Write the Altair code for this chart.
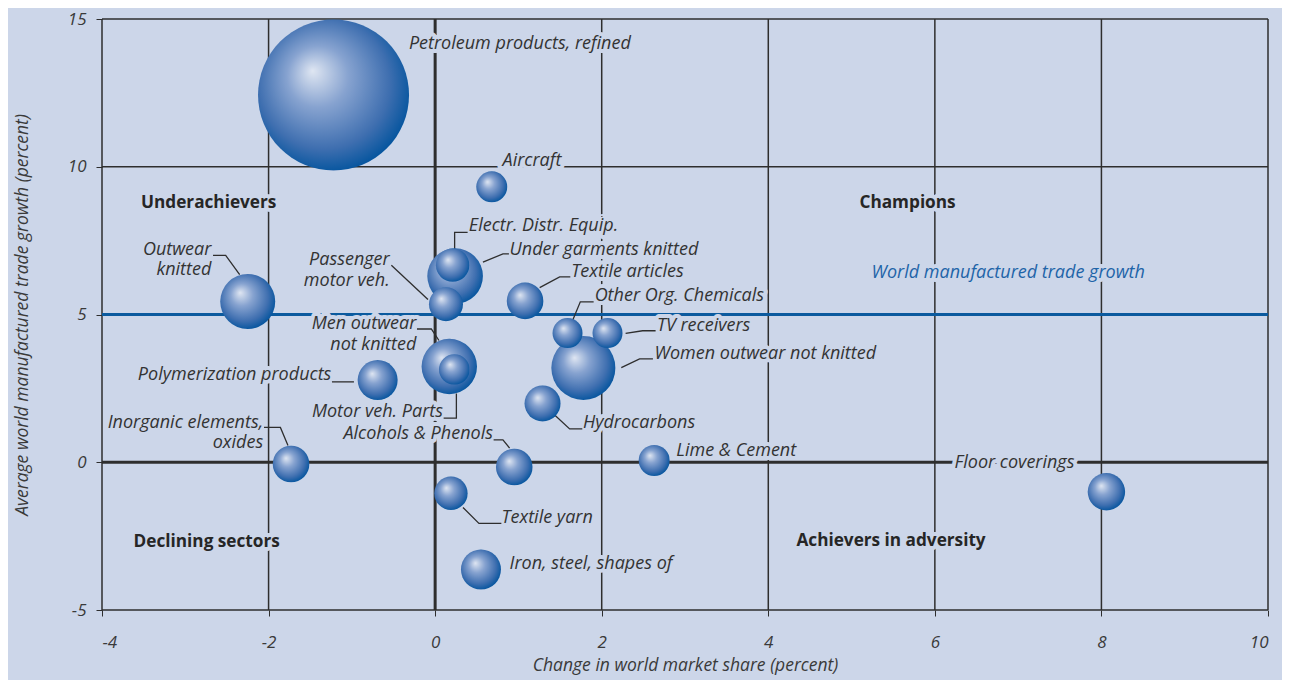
import altair as alt
import pandas as pd

# ---------------- data ----------------
names = ["Petroleum products, refined", "Aircraft", "Outwear knitted", "Electr. Distr. Equip.",
         "Under garments knitted", "Passenger motor veh.", "Textile articles", "Other Org. Chemicals",
         "TV receivers", "Women outwear not knitted", "Men outwear not knitted", "Motor veh. Parts",
         "Polymerization products", "Hydrocarbons", "Alcohols & Phenols", "Lime & Cement",
         "Inorganic elements, oxides", "Textile yarn", "Iron, steel, shapes of", "Floor coverings"]
share_change = [-1.22, 0.68, -2.25, 0.21, 0.24, 0.13, 1.08, 1.59, 2.07, 1.78, 0.17, 0.23,
                -0.69, 1.29, 0.95, 2.63, -1.73, 0.19, 0.55, 8.06]
trade_growth = [12.43, 9.32, 5.44, 6.67, 6.30, 5.35, 5.46, 4.37, 4.37, 3.19, 3.24, 3.14,
                2.78, 1.99, -0.16, 0.06, -0.06, -1.05, -3.63, -1.00]
bubble_value = [57.0, 2.4, 7.56, 2.79, 7.73, 2.89, 3.35, 2.25, 2.25, 10.24, 7.67, 2.34,
                4.0, 3.24, 3.35, 2.4, 3.35, 2.79, 4.0, 3.5]

world_growth = 5

x_ticks = [-4, -2, 0, 2, 4, 6, 8, 10]
y_ticks = [-5, 0, 5, 10, 15]

# annotation labels: text, x, y, align
label_text = ["Petroleum products, refined", "Aircraft", "Electr. Distr. Equip.", "Under garments knitted",
              "Passenger", "motor veh.", "Outwear", "knitted", "Textile articles", "Other Org. Chemicals",
              "TV receivers", "Women outwear not knitted", "Men outwear", "not knitted",
              "Polymerization products", "Motor veh. Parts", "Alcohols & Phenols", "Hydrocarbons",
              "Lime & Cement", "Inorganic elements,", "oxides", "Textile yarn", "Iron, steel, shapes of",
              "Floor coverings"]
label_x = [-0.315, 0.81, 0.405, 0.894, -0.546, -0.546, -2.687, -2.687, 1.635, 1.915, 2.663, 2.635,
           -0.226, -0.226, -1.246, 0.094, 0.694, 1.774, 2.896, -2.065, -2.065, 0.798, 0.894, 6.237]
label_y = [14.16, 10.19, 7.98, 7.19, 6.84, 6.15, 7.19, 6.50, 6.43, 5.63, 4.62, 3.67, 4.67, 3.97,
           2.94, 1.69, 0.95, 1.32, 0.37, 1.32, 0.65, -1.89, -3.43, -0.04]
label_align = ["left", "left", "left", "left", "right", "right", "right", "right", "left", "left",
               "left", "left", "right", "right", "right", "right", "right", "left", "left", "right",
               "right", "left", "left", "left"]

quad_text = ["Underachievers", "Champions", "Declining sectors", "Achievers in adversity"]
quad_x = [-2.719, 5.672, -2.743, 5.474]
quad_y = [8.78, 8.78, -2.71, -2.65]

ref_text = ["World manufactured trade growth"]
ref_x = [6.881]
ref_y = [6.41]

# leader lines: group id and points
leader_group = (["a"] * 3 + ["b"] * 3 + ["c"] * 3 + ["d"] * 2 + ["e"] * 3 + ["f"] * 3 + ["g"] * 3 +
                ["h"] * 3 + ["i"] * 3 + ["j"] * 2 + ["k"] * 3 + ["l"] * 3 + ["m"] * 3 + ["n"] * 3 +
                ["o"] * 3)
leader_x = [-2.667, -2.515, -2.347,
            0.234, 0.234, 0.39,
            0.574, 0.814, 0.886,
            -0.526, -0.086,
            1.255, 1.495, 1.623,
            1.654, 1.743, 1.903,
            2.287, 2.491, 2.647,
            2.235, 2.455, 2.615,
            -0.218, -0.046, 0.046,
            -1.239, -0.975,
            0.102, 0.255, 0.255,
            0.702, 0.814, 0.894,
            1.435, 1.615, 1.767,
            -2.055, -1.858, -1.767,
            0.334, 0.526, 0.795]
leader_y = [7.00, 7.00, 6.35,
            7.21, 7.78, 7.78,
            6.77, 7.05, 7.05,
            6.67, 5.51,
            5.91, 6.27, 6.27,
            4.82, 5.43, 5.43,
            4.36, 4.45, 4.45,
            3.20, 3.50, 3.50,
            4.51, 4.51, 4.12,
            2.72, 2.72,
            1.49, 1.49, 2.33,
            0.76, 0.76, 0.48,
            1.60, 1.13, 1.13,
            1.18, 1.18, 0.57,
            -1.53, -2.07, -2.07]

# ---------------- tables ----------------
bubbles = pd.DataFrame({"name": names, "x": share_change, "y": trade_growth, "v": bubble_value})
bubbles = bubbles.sort_values("v", ascending=False).reset_index(drop=True)
labels = pd.DataFrame({"t": label_text, "x": label_x, "y": label_y, "a": label_align})
quads = pd.DataFrame({"t": quad_text, "x": quad_x, "y": quad_y})
refs = pd.DataFrame({"t": ref_text, "x": ref_x, "y": ref_y})
leaders = pd.DataFrame({"g": leader_group, "x": leader_x, "y": leader_y})
leaders["o"] = range(len(leaders))
vlines = pd.DataFrame({"x": x_ticks})
hlines = pd.DataFrame({"y": [-5, 0, 10, 15]})

BG = "#ccd6e9"
INK = "#2e2e2e"
TXT = "#333333"
AX = "#3a3a3a"
FONT = "Open Sans"
FS = 18

xs = alt.Scale(domain=[-4, 10], nice=False, zero=False)
ys = alt.Scale(domain=[-5, 15], nice=False, zero=False)

x_axis = alt.Axis(values=x_ticks, title="Change in world market share (percent)", grid=False,
                  domain=False, tickColor=INK, tickSize=6, labelPadding=18,
                  labelExpr="datum.value + ''",
                  labelFont=FONT, labelFontStyle="italic", labelFontSize=17, labelColor=AX,
                  titleFont=FONT, titleFontStyle="italic", titleFontWeight="normal", titleFontSize=17.5,
                  titleColor=AX, titlePadding=6)
y_axis = alt.Axis(values=y_ticks, title="Average world manufactured trade growth (percent)", grid=False,
                  domain=False, tickColor=INK, tickSize=6, labelPadding=10,
                  labelExpr="datum.value + ''",
                  labelFont=FONT, labelFontStyle="italic", labelFontSize=17, labelColor=AX,
                  titleFont=FONT, titleFontStyle="italic", titleFontWeight="normal", titleFontSize=17.5,
                  titleColor=AX, titlePadding=36)


def X(f="x"):
    return alt.X(f"{f}:Q", scale=xs, axis=x_axis)


def Y(f="y"):
    return alt.Y(f"{f}:Q", scale=ys, axis=y_axis)


thin_v = alt.Chart(vlines).transform_filter("datum.x != 0").mark_rule(
    color=INK, strokeWidth=1.5).encode(x=X())
thick_v = alt.Chart(vlines).transform_filter("datum.x == 0").mark_rule(
    color=INK, strokeWidth=3).encode(x=X())
thin_h = alt.Chart(hlines).transform_filter("datum.y != 0").mark_rule(
    color=INK, strokeWidth=1.5).encode(y=Y())
thick_h = alt.Chart(hlines).transform_filter("datum.y == 0").mark_rule(
    color=INK, strokeWidth=3).encode(y=Y())
blue_line = alt.Chart(pd.DataFrame({"y": [world_growth]})).mark_rule(
    color="#0b5a9e", strokeWidth=3).encode(y=Y())


def texts(df, align, halo, **kw):
    base = dict(font=FONT, fontSize=FS, align=align, baseline="middle")
    base.update(kw)
    if halo:
        base.update(dict(fill=BG, stroke=BG, strokeWidth=8, strokeJoin="round"))
    return alt.Chart(df).mark_text(**base).encode(x=X(), y=Y(), text="t:N")


lab_left = labels[labels.a == "left"]
lab_right = labels[labels.a == "right"]


def text_layers(halo):
    return [
        texts(lab_left, "left", halo, fontStyle="italic", color=TXT),
        texts(lab_right, "right", halo, fontStyle="italic", color=TXT),
        texts(quads, "center", halo, fontWeight="bold", fontSize=17.2, color="#262626"),
        texts(refs, "center", halo, fontStyle="italic", color="#1e64a8"),
    ]


leader_lines = alt.Chart(leaders).mark_line(color=INK, strokeWidth=1.3).encode(
    x=X(), y=Y(), detail="g:N", order="o:Q")

gradient = {
    "gradient": "radial",
    "x1": 0.36, "y1": 0.34, "r1": 0.0,
    "x2": 0.46, "y2": 0.45, "r2": 0.58,
    "stops": [
        {"offset": 0.0, "color": "#dfe6f2"},
        {"offset": 0.35, "color": "#87a3d0"},
        {"offset": 0.75, "color": "#3f6fb0"},
        {"offset": 1.0, "color": "#00539d"},
    ],
}
# Vega circle: radius = sqrt(size) / 2, so size = 4 r^2; value v ~ (r/10)^2
bubble_layer = alt.Chart(bubbles).mark_circle(fill=gradient, opacity=1, strokeWidth=0).encode(
    x=X(), y=Y(),
    size=alt.Size("v:Q", scale=alt.Scale(domain=[0, 100], range=[0, 40000]), legend=None),
    order=alt.Order("v:Q", sort="descending"),
)

chart = alt.layer(
    thin_v, thick_v, thin_h, thick_h, blue_line,
    *text_layers(True),
    leader_lines,
    bubble_layer,
    *text_layers(False),
).properties(
    width=1166, height=591,
    autosize=alt.AutoSizeParams(type="none"),
    padding={"left": 94, "top": 11, "right": 14, "bottom": 70},
).configure(background=BG).configure_view(fill=BG, stroke=None)

chart.save("out.html", embed_options={"renderer": "svg", "actions": False})
